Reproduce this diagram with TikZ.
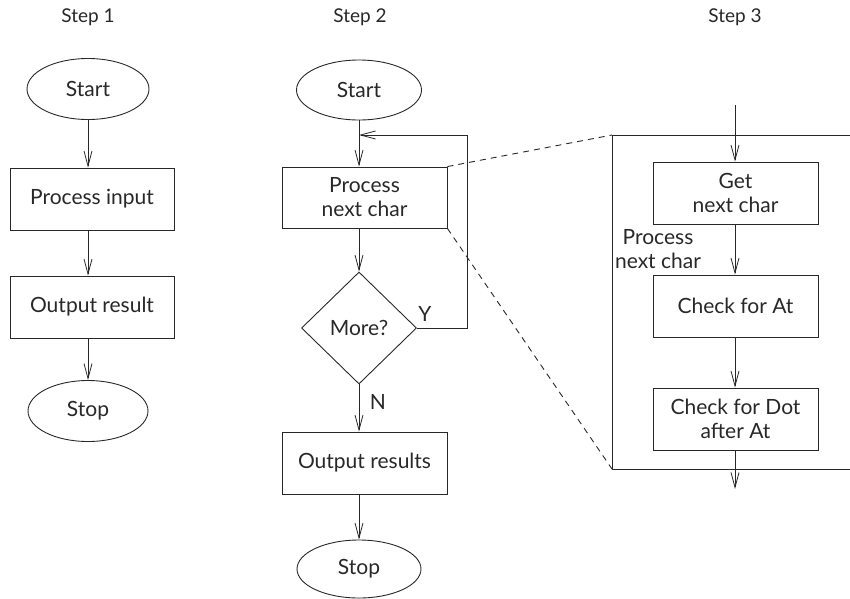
\documentclass[tikz,border=0pt]{standalone}
\usepackage{fontspec}
\setmainfont{Lato}
\usetikzlibrary{shapes.geometric,arrows.meta}
\definecolor{ink}{RGB}{40,40,40}
\begin{document}
\begin{tikzpicture}[x=1pt,y=-1pt,
  every node/.style={font=\fontsize{21}{24}\selectfont, text=ink},
  steplbl/.style={inner sep=0pt, font=\fontsize{19}{24}\selectfont},
  line/.style={draw=ink, line width=0.9pt},
  arr/.style={line, -{Straight Barb[length=15pt,width=8pt,line width=0.8pt]}},
  term/.style={line, ellipse, inner sep=0pt},
  procbox/.style={line, rectangle, inner sep=0pt, align=center, minimum width=164pt, minimum height=62pt},
  decision/.style={line, diamond, inner sep=0pt, minimum width=115pt, minimum height=112pt},
  lbl/.style={inner sep=0pt, align=center},
  dashline/.style={line, dashed, dash pattern=on 6pt off 5pt}
]
\useasboundingbox (0,0) rectangle (850,598);

% Labels
\node[steplbl] (s1) at (88,17) {Step 1};
\node[steplbl] (s2) at (360,17) {Step 2};
\node[steplbl] (s3) at (735,17) {Step 3};

% Step 1
\node[term, minimum width=122pt, minimum height=61pt] (a1) at (88,89) {Start};
\node[procbox] (a2) at (92,199) {Process input};
\node[procbox] (a3) at (92,307) {Output result};
\node[term, minimum width=120pt, minimum height=61pt] (a4) at (88,411) {Stop};
\draw[arr] (a1.south) -- (a1.south |- a2.north);
\draw[arr] (a2.south -| a1.south) -- (a1.south |- a3.north);
\draw[arr] (a3.south -| a1.south) -- (a4.north);

% Step 2
\node[term, minimum width=125pt, minimum height=60pt] (b1) at (359,90) {Start};
\node[procbox, minimum width=165pt, minimum height=61pt] (b2) at (364.5,197.5) {Process\\next char};
\node[decision] (b3) at (359,328) {More?};
\node[procbox, minimum width=165pt, minimum height=62pt] (b4) at (364.5,463) {Output results};
\node[term, minimum width=124pt, minimum height=58pt] (b5) at (359,569) {Stop};
\coordinate (j) at (359,135);
\coordinate (r1) at (467,328);
\coordinate (r2) at (467,135);
\draw[arr] (b1.south) -- (b1.south |- b2.north);
\draw[arr] (b2.south -| b1.south) -- (b3.north);
\draw[arr] (b3.east) -- (r1) -- (r2) -- (j);
\draw[arr] (b3.south) -- (b3.south |- b4.north);
\draw[arr] (b4.south -| b3.south) -- (b5.north);
\node[lbl] (ylab) at (425,314) {Y};
\node[lbl] (nlab) at (378,402) {N};

% Step 3 enclosing box
\coordinate (bx1) at (850,135);
\coordinate (bx2) at (612,135);
\coordinate (bx3) at (612,469);
\coordinate (bx4) at (850,469);
\draw[line] (bx1) -- (bx2) -- (bx3) -- (bx4);

% dashed zoom lines
\draw[dashline] (b2.north east) -- (bx2);
\draw[dashline] (b2.south east) -- (bx3);

% Step 3 nodes
\coordinate (c0) at (735,105);
\node[procbox, minimum width=165pt, minimum height=62pt] (c1) at (735.5,193) {Get\\next char};
\node[procbox, minimum width=165pt, minimum height=62pt] (c2) at (735.5,306) {Check for At};
\node[procbox, minimum width=165pt, minimum height=62pt] (c3) at (735.5,419) {Check for Dot\\after At};
\coordinate (c4) at (735,489);
\draw[arr] (c0) -- (c0 |- c1.north);
\draw[arr] (c1.south -| c0) -- (c0 |- c2.north);
\draw[arr] (c2.south -| c0) -- (c0 |- c3.north);
\draw[arr] (c3.south -| c0) -- (c4);
\node[lbl] (plab) at (658,249) {Process\\next char};
\end{tikzpicture}
\end{document}
